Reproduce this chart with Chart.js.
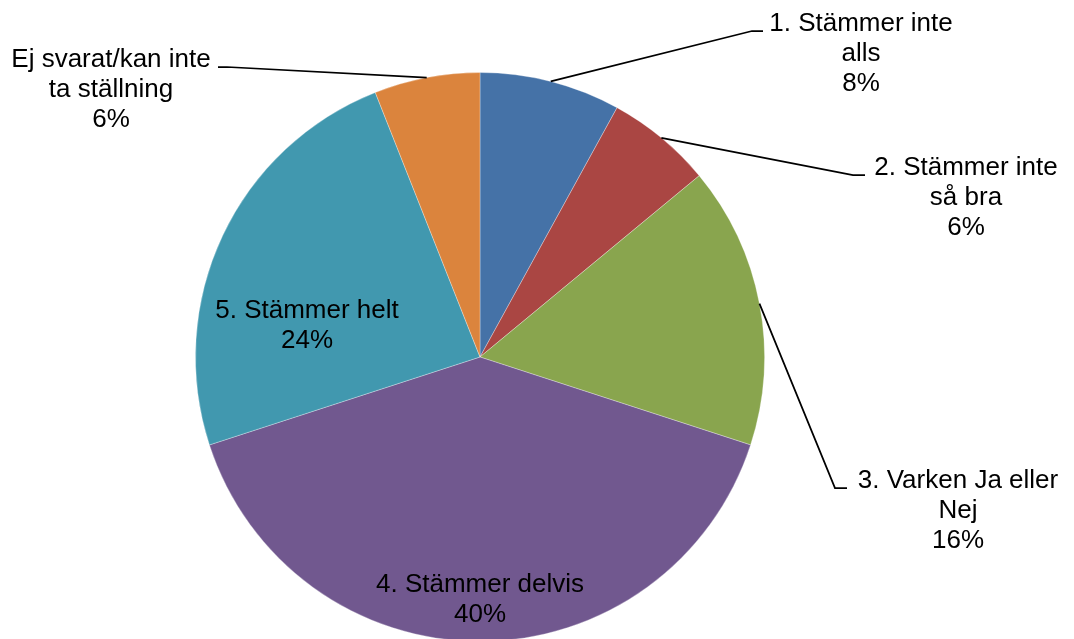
<!DOCTYPE html>
<html>
<head>
<meta charset="utf-8">
<script src="https://cdn.jsdelivr.net/npm/chart.js@4.4.1/dist/chart.umd.min.js"></script>
<style>
  html, body { margin: 0; padding: 0; background: #fff; overflow: hidden; }
  #wrap { position: relative; width: 1074px; height: 645px; }
</style>
</head>
<body>
<div id="wrap"><canvas id="pie_Chart"></canvas></div>
<script>
// Data
const categories = [
    ['1. Stämmer inte', 'alls'],
    ['2. Stämmer inte', 'så bra'],
    ['3. Varken Ja eller', 'Nej'],
    ['4. Stämmer delvis'],
    ['5. Stämmer helt'],
    ['Ej svarat/kan inte', 'ta ställning']
]
const shares = [8, 6, 16, 40, 24, 6]
const slice_colors = ['#4572A7', '#AA4643', '#89A54E', '#71588F', '#4198AF', '#DB843D']

// Where each label block sits (first baseline), and the elbow of its leader line
const label_layout = [
    {x: 861, y: 31, elbow: [752, 31], end: 763},
    {x: 966, y: 175, elbow: [853, 175], end: 865},
    {x: 958, y: 488, elbow: [835, 488], end: 847},
    {x: 480, y: 592},
    {x: 307, y: 318},
    {x: 111, y: 67, elbow: [227, 67], end: 218}
]

const FONT = '26px "Liberation Sans", Arial, sans-serif'
const LINE_H = 30

const pieLabels = {
    id: 'pieLabels',
    afterDatasetsDraw(chart)
    {
        const c = chart.ctx
        const arcs = chart.getDatasetMeta(0).data
        c.save()
        arcs.forEach((arc, i) => {
            const lay = label_layout[i]
            if (lay.elbow)
            {
                // leader line from the middle of the slice's outer edge
                const mid = (arc.startAngle + arc.endAngle) / 2
                const ax = arc.x + Math.cos(mid) * arc.outerRadius
                const ay = arc.y + Math.sin(mid) * arc.outerRadius
                c.beginPath()
                c.strokeStyle = '#000'
                c.lineWidth = 1.75
                c.moveTo(ax, ay)
                c.lineTo(lay.elbow[0], lay.elbow[1])
                c.lineTo(lay.end, lay.elbow[1])
                c.stroke()
            }
            const lines = categories[i].concat([shares[i] + '%'])
            c.font = FONT
            c.fillStyle = '#000'
            c.textAlign = 'center'
            c.textBaseline = 'alphabetic'
            lines.forEach((t, k) => c.fillText(t, lay.x, lay.y + k * LINE_H))
        })
        c.restore()
    }
}

const ctx = document.getElementById('pie_Chart').getContext('2d')
const pie_chart = new Chart(ctx, {
    type: 'pie',
    data: {
        labels: categories,
        datasets: [{
            data: shares,
            backgroundColor: slice_colors,
            borderColor: 'rgba(255,255,255,0.3)',
            borderWidth: 1
        }]
    },
    options: {
        responsive: true,
        maintainAspectRatio: false,
        animation: false,
        layout: {padding: {top: 72, bottom: 3, left: 195, right: 309}},
        plugins: {
            legend: {display: false},
            tooltip: {enabled: false}
        }
    },
    plugins: [pieLabels]
})
</script>
</body>
</html>
